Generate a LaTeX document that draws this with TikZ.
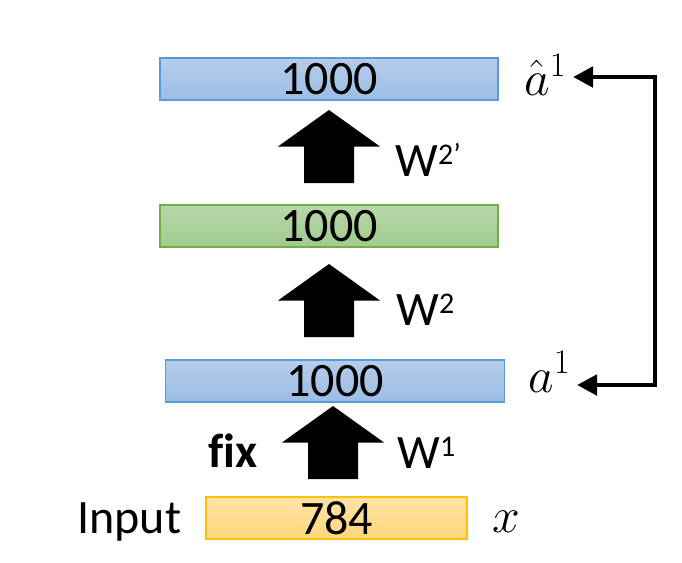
\documentclass[tikz,border=0pt]{standalone}
\usepackage{fontspec}
\setmainfont{Carlito}
\usetikzlibrary{arrows.meta,positioning}

\definecolor{layerblue}{RGB}{91,155,213}
\definecolor{layerbluetop}{RGB}{182,204,234}
\definecolor{layerbluebot}{RGB}{154,189,228}
\definecolor{layergreen}{RGB}{112,173,71}
\definecolor{layergreentop}{RGB}{184,215,168}
\definecolor{layergreenbot}{RGB}{160,203,140}
\definecolor{layerorange}{RGB}{255,192,0}
\definecolor{layerorangetop}{RGB}{255,227,165}
\definecolor{layerorangebot}{RGB}{255,213,122}

\newcommand{\wsup}[1]{\raisebox{5.8pt}{\fontsize{15}{15}\selectfont #1}}

\begin{document}
\begin{tikzpicture}[
    x=0.5pt, y=-0.5pt,
    layer/.style={draw, rectangle, minimum height=21pt, inner sep=0pt, line width=0.6pt,
        font=\fontsize{24}{28}\selectfont},
    bluelayer/.style={layer, draw=layerblue, top color=layerbluetop, bottom color=layerbluebot},
    greenlayer/.style={layer, draw=layergreen, top color=layergreentop, bottom color=layergreenbot},
    inlayer/.style={layer, draw=layerorange, top color=layerorangetop, bottom color=layerorangebot},
    lbl/.style={inner sep=0pt, anchor=base west, font=\fontsize{24}{28}\selectfont},
    mathlbl/.style={inner sep=0pt, anchor=base west, font=\fontsize{24}{28}\selectfont},
    bigarrow/.pic={\fill (-25,36.5) -- (-25,0) -- (-51,0) -- (0,-36.5) -- (51,0) -- (25,0) -- (25,36.5) -- cycle;},
    fb/.style={{Triangle[length=10pt,width=10pt]}-{Triangle[length=10pt,width=10pt]}, line width=2.4pt}
]
\useasboundingbox (0,0) rectangle (682,563);

% Layers
\node[bluelayer, minimum width=169pt] (out) at (329,79) {1000};
\node[greenlayer, minimum width=169pt] (hidden) at (329,226) {1000};
\node[bluelayer, minimum width=169.5pt] (code) at (335,381) {1000};
\node[inlayer, minimum width=130.5pt] (input) at (336.5,518) {784};

% Weights
\pic (warrow2b) at (329,146.5) {bigarrow};
\pic (warrow2) at (329,300.5) {bigarrow};
\pic (warrow1) at (333,442.5) {bigarrow};

\node[lbl] (w2b) at (395,176) {W\wsup{2’}};
\node[lbl] (w2) at (396,325) {W\wsup{2}};
\node[lbl] (w1) at (397,468) {W\wsup{1}};
\node[lbl, font=\fontsize{24}{28}\selectfont\bfseries\addfontfeatures{Ligatures=NoCommon}] (fix) at (208,467) {fix};
\node[lbl] (inlbl) at (77,533) {Input};

% Activations
\node[mathlbl] (ahat) at (524,95) {$\hat{a}^1$};
\node[mathlbl] (aone) at (528,392) {$a^1$};
\node[mathlbl] (xin) at (492,532) {$x$};

% Feedback
\coordinate (fbtop) at (655,77);
\coordinate (fbbot) at (655,385);
\coordinate (fbtipa) at (573,77);
\coordinate (fbtipb) at (577,385);
\draw[fb] (fbtipa) -- (fbtop) -- (fbbot) -- (fbtipb);
\end{tikzpicture}
\end{document}
